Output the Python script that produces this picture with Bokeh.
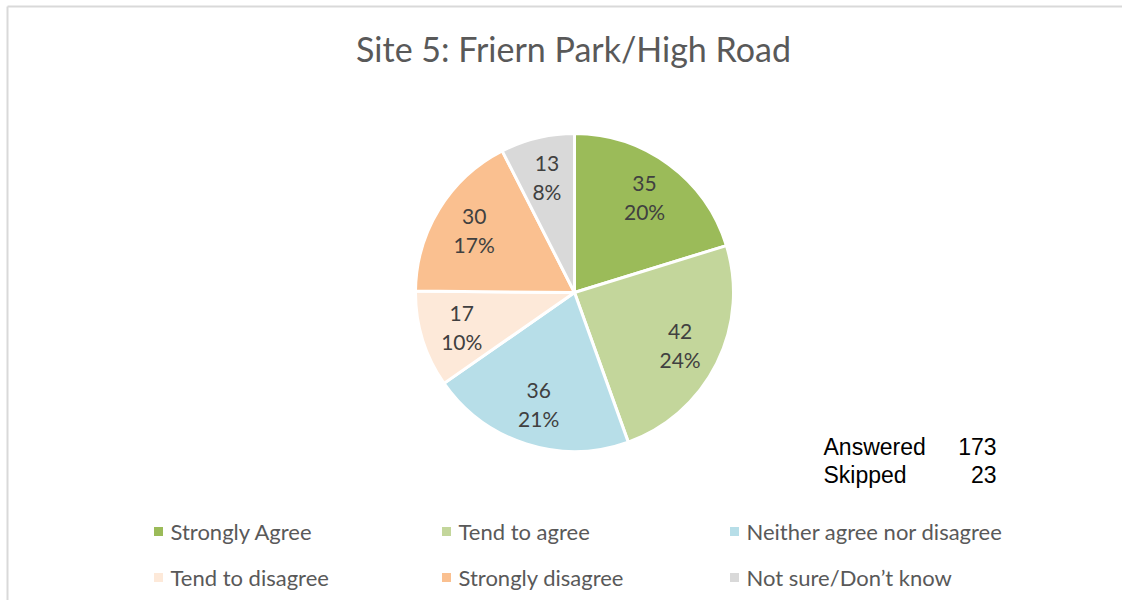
import math
from bokeh.plotting import figure
from bokeh.models import Range1d, ColumnDataSource
from bokeh.core.properties import value
from bokeh.embed import file_html
from bokeh.resources import INLINE

# ---- data ----
title = "Site 5: Friern Park/High Road"
categories = ["Strongly Agree", "Tend to agree", "Neither agree nor disagree",
              "Tend to disagree", "Strongly disagree", "Not sure/Don\u2019t know"]
counts = [35, 42, 36, 17, 30, 13]
colors = ["#9BBB59", "#C3D69B", "#B7DEE8", "#FDE9D9", "#FAC090", "#D9D9D9"]
summary_labels = ["Answered", "Skipped"]
summary_values = [173, 23]

W, H = 1122, 600
p = figure(width=W, height=H, output_backend="svg", toolbar_location=None,
           x_range=Range1d(0, W), y_range=Range1d(0, H),
           min_border=0, outline_line_color=None)
p.axis.visible = False
p.grid.visible = False
p.background_fill_color = "white"
p.border_fill_color = "white"

def Y(py):
    return H - py

FONT = value("Lato")

# chart border (top and left)
p.segment(x0=[7, 7], y0=[Y(6), Y(6)], x1=[W, 7], y1=[Y(6), 0],
          line_color="#D9D9D9", line_width=2)

# title
p.text(x=[573], y=[Y(48)], text=[title], text_font=FONT, text_font_size="34px",
       text_color="#595959", text_align="center", text_baseline="middle")

# pie
cx, cy, R = 574, Y(292), 159
total = sum(counts)
starts, ends, lx, ly, t1, t2 = [], [], [], [], [], []
cum = 0
for c in counts:
    a0 = math.pi / 2 - 2 * math.pi * cum / total
    a1 = math.pi / 2 - 2 * math.pi * (cum + c) / total
    starts.append(a1)
    ends.append(a0)
    mid = (a0 + a1) / 2
    lx.append(cx + 118 * math.cos(mid))
    ly.append(cy + 118 * math.sin(mid))
    t1.append(str(c))
    t2.append(f"{round(c / total * 100)}%")
    cum += c

src = ColumnDataSource(dict(start=starts, end=ends, color=colors,
                            lx=lx, ly=ly, t1=t1, t2=t2))
p.wedge(x=cx, y=cy, radius=R, start_angle="start", end_angle="end",
        fill_color="color", line_color="white", line_width=3, source=src)
p.text(x="lx", y="ly", text="t1", y_offset=-14, source=src, text_font=FONT,
       text_font_size="21px", text_color="#404040", text_align="center",
       text_baseline="middle")
p.text(x="lx", y="ly", text="t2", y_offset=14, source=src, text_font=FONT,
       text_font_size="21px", text_color="#404040", text_align="center",
       text_baseline="middle")

# answered / skipped
for i, (lab, v) in enumerate(zip(summary_labels, summary_values)):
    yy = Y(446 + 28 * i)
    p.text(x=[823], y=[yy], text=[lab], text_font=value("Liberation Sans"),
           text_font_size="23px", text_color="black", text_align="left",
           text_baseline="middle")
    p.text(x=[996], y=[yy], text=[str(v)], text_font=value("Liberation Sans"),
           text_font_size="23px", text_color="black", text_align="right",
           text_baseline="middle")

# legend
mx, my, tx = [], [], []
for i, cat in enumerate(categories):
    col, row = i % 3, i // 3
    mx.append(158 + 288 * col)
    my.append(Y(531 + 46 * row))
    tx.append(158 + 288 * col + 12)
lsrc = ColumnDataSource(dict(mx=mx, my=my, tx=tx, cat=categories, color=colors))
p.rect(x="mx", y="my", width=9, height=9, fill_color="color", line_color=None,
       source=lsrc)
p.text(x="tx", y="my", text="cat", source=lsrc, text_font=FONT,
       text_font_size="22px", text_color="#595959", text_align="left",
       text_baseline="middle")

open("out.html", "w").write(file_html(p, INLINE))
